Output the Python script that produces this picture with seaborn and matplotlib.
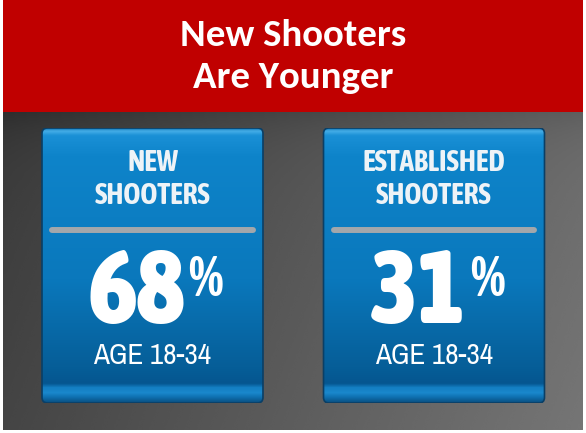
import numpy as np
import matplotlib
matplotlib.use("Agg")
import matplotlib.pyplot as plt
import seaborn as sns
from matplotlib.patches import FancyBboxPatch, Rectangle
from matplotlib.colors import LinearSegmentedColormap

# data
title_lines = ["New Shooters", "Are Younger"]
groups = ["NEW\nSHOOTERS", "ESTABLISHED\nSHOOTERS"]
pct_values = [68, 31]
age_labels = ["AGE 18-34", "AGE 18-34"]
card_height = [1, 1]

sns.set_theme(style="white")
narrow = ['Archivo Narrow', 'Liberation Sans', 'DejaVu Sans']
narrow_bold = ['Asap Condensed', 'Archivo Narrow', 'DejaVu Sans']
plt.rcParams['font.family'] = narrow

fig = plt.figure(figsize=(5.86, 4.33), dpi=100, facecolor='white')

# background in pixel coords
bg = fig.add_axes([0, 0, 1, 1])
X, Y = np.meshgrid(np.linspace(0, 1, 300), np.linspace(0, 1, 150))
val = 0.23 + 0.19 * X + 0.04 * Y - 0.05 * np.exp(-Y / 0.08)
bg.imshow(val, cmap='gray', vmin=0, vmax=1, extent=(3, 583, 430, 111),
          aspect='auto', interpolation='bicubic')
bg.add_patch(Rectangle((3, 0), 580, 112, color='#c00000', lw=0))
for k, line in enumerate(title_lines):
    bg.text(293, 36 + 41 * k, line, ha='center', va='center', fontsize=28,
            fontweight='bold', color='white', family=['Carlito', 'Lato', 'DejaVu Sans'])
bg.set_xlim(0, 586)
bg.set_ylim(433, 0)
bg.axis('off')

# cards drawn from a seaborn barplot
card_ax = fig.add_axes([0, 30 / 433, 1, 275 / 433])
card_ax.patch.set_alpha(0)
sns.barplot(x=groups, y=card_height, ax=card_ax, width=0.785, color='#0a7bc0')
card_ax.axis('off')

card_cmap = LinearSegmentedColormap.from_list('card', [
    (0.0, '#0a4f80'), (0.02, '#0f70b0'), (0.035, '#1a88cc'), (0.055, '#137ec2'),
    (0.07, '#055690'), (0.13, '#065e98'), (0.45, '#0a78bc'), (0.9, '#0e84ca'),
    (0.975, '#1a90d6'), (0.99, '#45aee8'), (1.0, '#1679b8')])
grad = np.linspace(0, 1, 256).reshape(-1, 1)

for i, bar in enumerate(list(card_ax.patches)):
    x0, w = bar.get_x(), bar.get_width()
    bar.set_visible(False)
    box = FancyBboxPatch((x0, 0), w, 1, boxstyle="round,pad=0,rounding_size=0.02",
                         facecolor='none', edgecolor='#0a3f66', lw=1.2, zorder=3)
    card_ax.add_patch(box)
    im = card_ax.imshow(grad, cmap=card_cmap, extent=(x0, x0 + w, 0, 1),
                        aspect='auto', origin='lower', zorder=2)
    im.set_clip_path(box)
    card_ax.plot([x0 + 0.036, x0 + w - 0.036], [0.629, 0.629], color='#a3a7ab',
                 lw=4.3, solid_capstyle='round', zorder=4)
    card_ax.text(i, 0.815, groups[i], ha='center', va='center', fontsize=21,
                 fontweight='bold', color='#eef3f7', linespacing=1.15, zorder=5,
                 family=narrow_bold)
    card_ax.text(i + 0.115, 0.292, f"{pct_values[i]}", ha='right', va='baseline',
                 fontsize=74, fontweight='black', color='white', zorder=5,
                 family=narrow_bold)
    card_ax.text(i + 0.127, 0.39, "%", ha='left', va='baseline', fontsize=40,
                 fontweight='bold', color='white', zorder=5, family=narrow_bold)
    card_ax.text(i, 0.143, age_labels[i], ha='center', va='baseline', fontsize=21,
                 color='white', zorder=5)

card_ax.set_xlim(-152.5 / 281.5, 433.5 / 281.5)
card_ax.set_ylim(0, 1)

fig.savefig("out.png", dpi=100, facecolor='white')
